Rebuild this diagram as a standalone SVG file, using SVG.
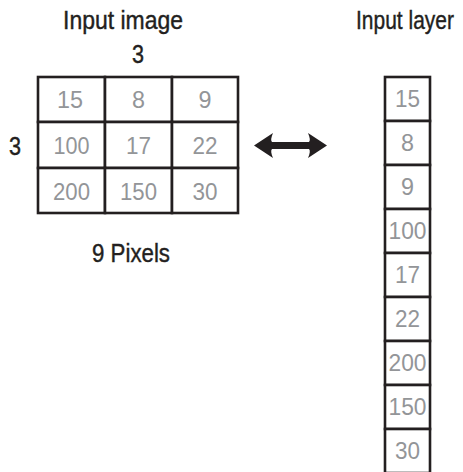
<svg xmlns="http://www.w3.org/2000/svg" width="463" height="472" viewBox="0 0 463 472">
<style>
.t{font-family:"Liberation Sans",Arial,sans-serif;font-size:25px;fill:#231f20;stroke:#231f20;stroke-width:0.4;text-anchor:middle}
.n{font-family:"Liberation Sans",Arial,sans-serif;font-size:24px;fill:#939598;text-anchor:middle}
.c{fill:#fff;stroke:#231f20;stroke-width:2.6}
</style>
<rect width="463" height="472" fill="#fff"/>
<text class="t" x="123" y="29" textLength="120" lengthAdjust="spacingAndGlyphs">Input image</text>
<text class="t" x="138" y="63" textLength="12" lengthAdjust="spacingAndGlyphs">3</text>
<text class="t" x="15" y="155" textLength="12" lengthAdjust="spacingAndGlyphs">3</text>
<text class="t" x="131" y="262" textLength="78" lengthAdjust="spacingAndGlyphs">9 Pixels</text>
<text class="t" transform="translate(405,29) scale(0.84,1)" x="0" y="0">Input layer</text>
<g id="grid">
<rect class="c" x="38" y="77" width="67" height="45"/>
<rect class="c" x="105" y="77" width="67" height="45"/>
<rect class="c" x="172" y="77" width="66" height="45"/>
<rect class="c" x="38" y="122" width="67" height="46"/>
<rect class="c" x="105" y="122" width="67" height="46"/>
<rect class="c" x="172" y="122" width="66" height="46"/>
<rect class="c" x="38" y="168" width="67" height="45"/>
<rect class="c" x="105" y="168" width="67" height="45"/>
<rect class="c" x="172" y="168" width="66" height="45"/>
<text class="n" x="70" y="108" textLength="26" lengthAdjust="spacingAndGlyphs">15</text>
<text class="n" x="138.5" y="108" textLength="13" lengthAdjust="spacingAndGlyphs">8</text>
<text class="n" x="205" y="108" textLength="13" lengthAdjust="spacingAndGlyphs">9</text>
<text class="n" x="71.5" y="154" textLength="36" lengthAdjust="spacingAndGlyphs">100</text>
<text class="n" x="138.5" y="154" textLength="25" lengthAdjust="spacingAndGlyphs">17</text>
<text class="n" x="205" y="154" textLength="25" lengthAdjust="spacingAndGlyphs">22</text>
<text class="n" x="71.5" y="200" textLength="37" lengthAdjust="spacingAndGlyphs">200</text>
<text class="n" x="138.5" y="200" textLength="37" lengthAdjust="spacingAndGlyphs">150</text>
<text class="n" x="205" y="200" textLength="25" lengthAdjust="spacingAndGlyphs">30</text>
</g>
<g id="column">
<rect class="c" x="385" y="77" width="45" height="44"/>
<rect class="c" x="385" y="121" width="45" height="44"/>
<rect class="c" x="385" y="165" width="45" height="44"/>
<rect class="c" x="385" y="209" width="45" height="44"/>
<rect class="c" x="385" y="253" width="45" height="44"/>
<rect class="c" x="385" y="297" width="45" height="44"/>
<rect class="c" x="385" y="341" width="45" height="44"/>
<rect class="c" x="385" y="385" width="45" height="44"/>
<rect class="c" x="385" y="429" width="45" height="44"/>
<text class="n" x="407.5" y="107" textLength="25" lengthAdjust="spacingAndGlyphs">15</text>
<text class="n" x="407.5" y="151" textLength="13" lengthAdjust="spacingAndGlyphs">8</text>
<text class="n" x="407.5" y="195" textLength="13" lengthAdjust="spacingAndGlyphs">9</text>
<text class="n" x="407.5" y="239" textLength="38" lengthAdjust="spacingAndGlyphs">100</text>
<text class="n" x="407.5" y="283" textLength="25" lengthAdjust="spacingAndGlyphs">17</text>
<text class="n" x="407.5" y="327" textLength="25" lengthAdjust="spacingAndGlyphs">22</text>
<text class="n" x="407.5" y="371" textLength="38" lengthAdjust="spacingAndGlyphs">200</text>
<text class="n" x="407.5" y="415" textLength="38" lengthAdjust="spacingAndGlyphs">150</text>
<text class="n" x="407.5" y="459" textLength="25" lengthAdjust="spacingAndGlyphs">30</text>
</g>
<g id="connectors">
<path d="M254,145.5 L273,133 Q270,140 272,142 L309,142 Q311,140 308,133 L327,145.5 L308,158 Q311,151 309,149 L272,149 Q270,151 273,158 Z" fill="#231f20"/>
</g>
</svg>
